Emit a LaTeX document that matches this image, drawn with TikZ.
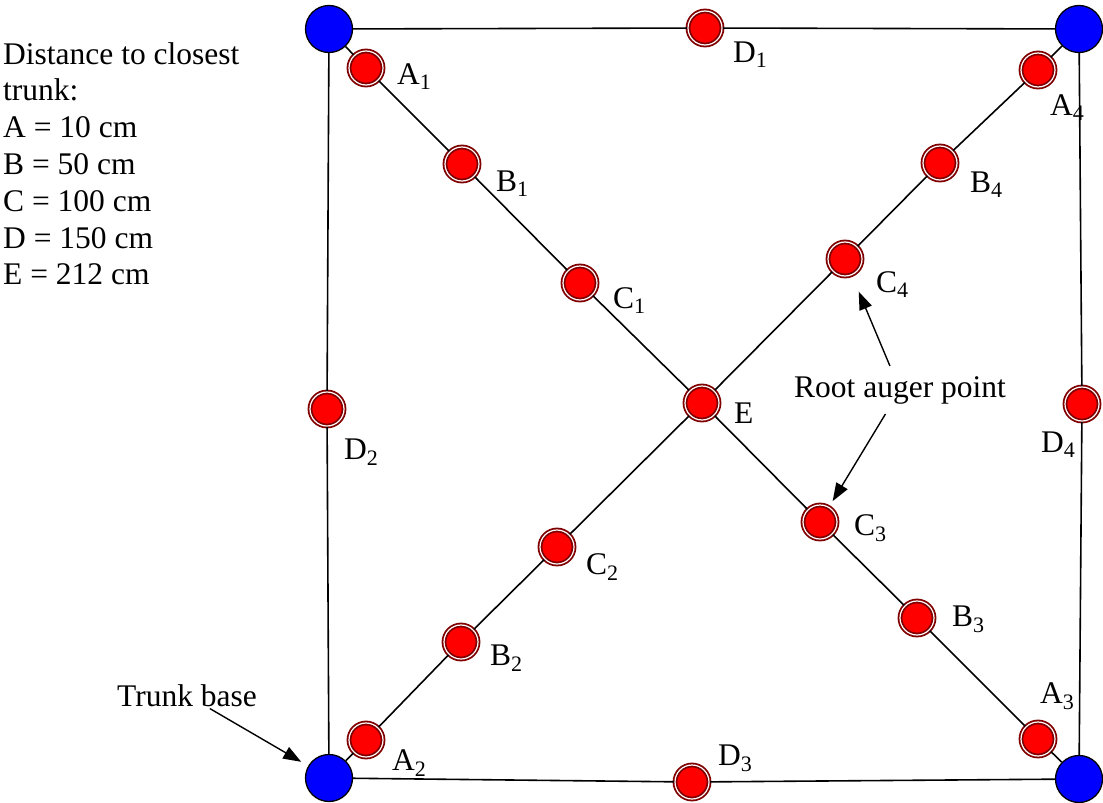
\documentclass[tikz,border=0pt]{standalone}
\usepackage{fontspec}
\setmainfont{Liberation Serif}
\usetikzlibrary{arrows.meta}
\definecolor{ringred}{RGB}{128,0,0}

\begin{document}
\begin{tikzpicture}[
    x=1pt, y=-1pt,
    font=\fontsize{31.5}{36.8}\selectfont,
    trunk/.style={circle, draw, fill=blue, line width=1.3pt, minimum size=47pt, inner sep=0pt},
    auger/.style={circle, draw=ringred, double=white, line width=1.8pt, double distance=1.2pt, fill=red, minimum size=34pt, inner sep=0pt},
    tag/.style={anchor=base west, inner sep=0pt},
    side/.style={line width=1.6pt},
    arrow/.style={-{Triangle[length=18pt, width=13pt]}, line width=1.4pt}
]
    \useasboundingbox (0,0) rectangle (1103,803);

    % trunks at the corners
    \node[trunk] (tl) at (329,29) {};
    \node[trunk] (tr) at (1079,29) {};
    \node[trunk] (bl) at (329,778) {};
    \node[trunk] (br) at (1079,779) {};

    % auger points
    \node[auger] (a1) at (366,68) {};
    \node[auger] (b1) at (462,164) {};
    \node[auger] (c1) at (580,283) {};
    \node[auger] (e) at (702,403) {};
    \node[auger] (c3) at (820,522) {};
    \node[auger] (b3) at (917,618) {};
    \node[auger] (a3) at (1038,739) {};
    \node[auger] (a2) at (366,740) {};
    \node[auger] (b2) at (461,642) {};
    \node[auger] (c2) at (557,547) {};
    \node[auger] (c4) at (845,259) {};
    \node[auger] (b4) at (940,163) {};
    \node[auger] (a4) at (1038,70) {};
    \node[auger] (d1) at (705,28) {};
    \node[auger] (d2) at (327,409) {};
    \node[auger] (d3) at (692,782) {};
    \node[auger] (d4) at (1082,404) {};

    \draw[side] (tl) -- (d1) -- (tr) -- (d4) -- (br) -- (d3) -- (bl) -- (d2) -- (tl);
    \draw[side] (tl) -- (a1) -- (b1) -- (c1) -- (e) -- (c3) -- (b3) -- (a3) -- (br);
    \draw[side] (bl) -- (a2) -- (b2) -- (c2) -- (e) -- (c4) -- (b4) -- (a4) -- (tr);

    % point names
    \node[tag] (la1) at (397,84) {A\textsubscript{1}};
    \node[tag] (lb1) at (496,191) {B\textsubscript{1}};
    \node[tag] (lc1) at (613,308) {C\textsubscript{1}};
    \node[tag] (le) at (734,423) {E};
    \node[tag] (lc3) at (854,535) {C\textsubscript{3}};
    \node[tag] (lb3) at (952,626) {B\textsubscript{3}};
    \node[tag] (la3) at (1040,703) {A\textsubscript{3}};
    \node[tag] (la2) at (392,770) {A\textsubscript{2}};
    \node[tag] (lb2) at (490,665) {B\textsubscript{2}};
    \node[tag] (lc2) at (586,574) {C\textsubscript{2}};
    \node[tag] (lc4) at (876,292) {C\textsubscript{4}};
    \node[tag] (lb4) at (970,192) {B\textsubscript{4}};
    \node[tag] (la4) at (1050,115) {A\textsubscript{4}};
    \node[tag] (ld1) at (733,62) {D\textsubscript{1}};
    \node[tag] (ld2) at (344,459) {D\textsubscript{2}};
    \node[tag] (ld3) at (718,765) {D\textsubscript{3}};
    \node[tag] (ld4) at (1041,452) {D\textsubscript{4}};

    % legend and notes
    \node[tag, align=left] (legend) at (3,284.8) {Distance to closest\\trunk:\\A = 10 cm\\B = 50 cm\\C = 100 cm\\D = 150 cm\\E = 212 cm};
    \node[anchor=base, inner sep=10pt] (rap) at (900,397) {Root auger point};
    \node[anchor=base, inner sep=2pt] (trunkbase) at (187,706) {Trunk base};

    \draw[arrow, shorten >=17.5pt] (rap) -- (c4);
    \draw[arrow, shorten >=6.5pt] (rap) -- (c3);
    \draw[arrow, shorten >=8pt] (trunkbase) -- (bl);
\end{tikzpicture}
\end{document}
